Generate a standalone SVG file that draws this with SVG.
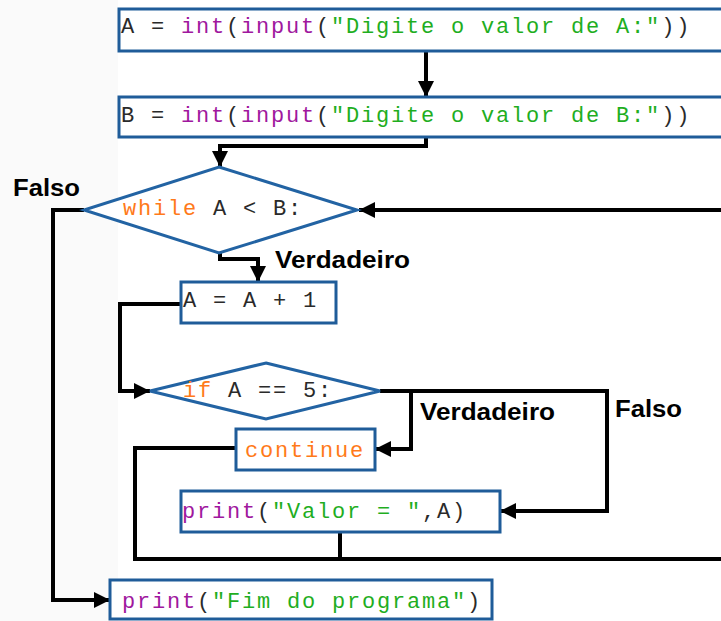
<svg xmlns="http://www.w3.org/2000/svg" width="721" height="621" viewBox="0 0 721 621">
<style>
.box{fill:#fff;stroke:#1f5c99;stroke-width:3}
.dia{fill:#fff;stroke:#2263a3;stroke-width:3}
.code{font-family:"Liberation Mono","DejaVu Sans Mono",monospace;font-size:22px;letter-spacing:1.8px;fill:#2a2a2a;white-space:pre}
.bi{fill:#a0189e}
.str{fill:#1fae1f}
.kw{fill:#ff7a1a}
.lbl{font-family:"Liberation Sans",Arial,sans-serif;font-weight:bold;font-size:23px;fill:#000}
.conn{fill:none;stroke:#000;stroke-width:4;stroke-linejoin:miter}
</style>
<defs>
<marker id="ah" viewBox="0 0 16 16" refX="16" refY="8" markerWidth="16" markerHeight="16" markerUnits="userSpaceOnUse" orient="auto">
<path d="M0,0 L16,8 L0,16 Z" fill="#000"/>
</marker>
</defs>
<rect width="721" height="621" fill="#fff"/>
<rect width="118" height="621" fill="#fafafa"/>
<g id="connectors">
<path class="conn" d="M426,51 V97" marker-end="url(#ah)"/>
<path class="conn" d="M426,137 V146 H220 V167" marker-end="url(#ah)"/>
<path class="conn" d="M84,210 H53 V600 H110" marker-end="url(#ah)"/>
<path class="conn" d="M220,253 V259 H258 V282" marker-end="url(#ah)"/>
<path class="conn" d="M181,304 H120 V391 H150" marker-end="url(#ah)"/>
<path class="conn" d="M380,391 H411 V449 H375" marker-end="url(#ah)"/>
<path class="conn" d="M380,391 H607 V511 H500" marker-end="url(#ah)"/>
<path class="conn" d="M236,448 H135 V559 H723"/>
<path class="conn" d="M340,532 V559"/>
<path class="conn" d="M723,210 H359" marker-end="url(#ah)"/>
</g>
<g id="nodeA">
<rect class="box" x="119" y="9" width="610" height="42"/>
<text class="code" x="121" y="33">A = <tspan class="bi">int</tspan>(<tspan class="bi">input</tspan>(<tspan class="str">"Digite o valor de A:"</tspan>))</text>
</g>
<g id="nodeB">
<rect class="box" x="119" y="97" width="610" height="40"/>
<text class="code" x="121" y="122">B = <tspan class="bi">int</tspan>(<tspan class="bi">input</tspan>(<tspan class="str">"Digite o valor de B:"</tspan>))</text>
</g>
<g id="nodeWhile">
<polygon class="dia" points="219,167 357,210 219,253 84,210"/>
<text class="code" x="123" y="215"><tspan class="kw">while</tspan> A &lt; B:</text>
</g>
<g id="nodeInc">
<rect class="box" x="181" y="282" width="155" height="41"/>
<text class="code" x="183" y="307">A = A + 1</text>
</g>
<g id="nodeIf">
<polygon class="dia" points="266,363 380,391 266,419 150,391"/>
<text class="code" x="183" y="397"><tspan class="kw">if</tspan> A == 5:</text>
</g>
<g id="nodeContinue">
<rect class="box" x="236" y="429" width="139" height="41"/>
<text class="code" x="245" y="457"><tspan class="kw">continue</tspan></text>
</g>
<g id="nodePrintValor">
<rect class="box" x="181" y="491" width="319" height="41"/>
<text class="code" x="182" y="518"><tspan class="bi">print</tspan>(<tspan class="str">"Valor = "</tspan>,A)</text>
</g>
<g id="nodeFim">
<rect class="box" x="110" y="580" width="382" height="39"/>
<text class="code" x="122" y="608"><tspan class="bi">print</tspan>(<tspan class="str">"Fim do programa"</tspan>)</text>
</g>
<g id="labels">
<text class="lbl" x="13" y="196" textLength="67" lengthAdjust="spacingAndGlyphs">Falso</text>
<text class="lbl" x="275" y="268" textLength="135" lengthAdjust="spacingAndGlyphs">Verdadeiro</text>
<text class="lbl" x="420" y="420" textLength="135" lengthAdjust="spacingAndGlyphs">Verdadeiro</text>
<text class="lbl" x="615" y="417" textLength="67" lengthAdjust="spacingAndGlyphs">Falso</text>
</g>
</svg>
